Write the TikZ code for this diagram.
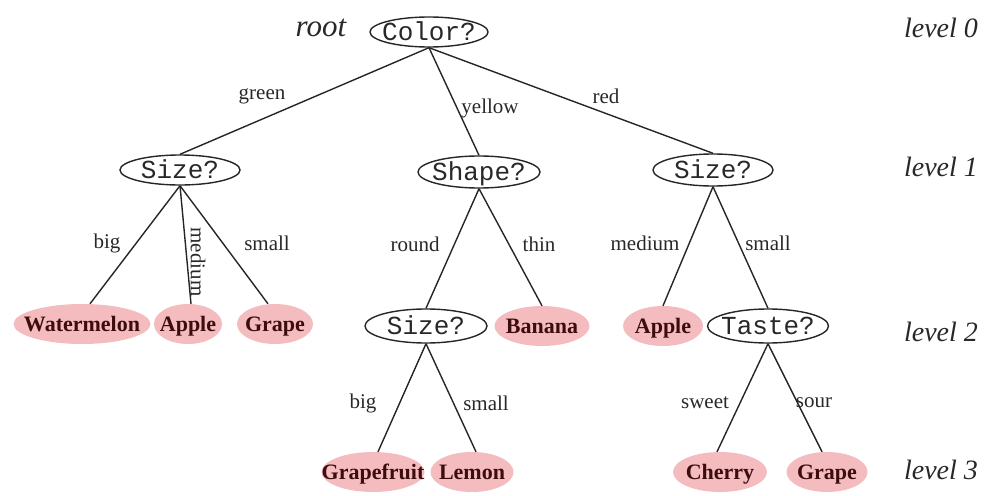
\documentclass[tikz,border=0pt]{standalone}
\usepackage{fontspec}
\setmainfont{Liberation Serif}
\setmonofont{Liberation Mono}
\usetikzlibrary{shapes.geometric}
\definecolor{leaffill}{RGB}{244,188,190}
\definecolor{leaftext}{RGB}{60,12,14}
\definecolor{inktext}{RGB}{40,40,40}
\newcommand{\qtxt}[1]{\makebox[0pt]{\raisebox{-0.32em}[0pt][0pt]{#1}}}
\newcommand{\ltxt}[1]{\makebox[0pt]{\raisebox{-0.33em}[0pt][0pt]{#1}}}
\tikzset{
  qnode/.style={ellipse, draw=black!85, line width=1.4pt, inner sep=0pt,
    font=\fontsize{26}{26}\ttfamily, text=inktext},
  leafnode/.style={ellipse, fill=leaffill, draw=none, inner sep=0pt,
    minimum height=40pt, font=\fontsize{22}{22}\bfseries, text=leaftext},
  elabel/.style={inner sep=0pt, font=\fontsize{21}{21}\selectfont, text=inktext},
  lvl/.style={inner sep=0pt, font=\fontsize{28}{28}\itshape, text=inktext},
  edge/.style={draw=black!85, line width=1.4pt}
}
\begin{document}
\begin{tikzpicture}[x=1pt,y=-1pt]
\useasboundingbox (0,0) rectangle (998,495);
% question nodes
\node[qnode, minimum width=118pt, minimum height=30pt] (color) at (429,32) {\qtxt{Color?}};
\node[qnode, minimum width=120pt, minimum height=30pt] (sizeA) at (180,170) {\qtxt{Size?}};
\node[qnode, minimum width=122pt, minimum height=32pt] (shape) at (479,172) {\qtxt{Shape?}};
\node[qnode, minimum width=120pt, minimum height=32pt] (sizeB) at (713,170) {\qtxt{Size?}};
\node[qnode, minimum width=122pt, minimum height=34pt] (sizeC) at (426,326) {\qtxt{Size?}};
\node[qnode, minimum width=121pt, minimum height=34pt] (taste) at (768,326) {\qtxt{Taste?}};
% leaves
\node[leafnode, minimum width=137pt] (watermelon) at (82,324) {\ltxt{Watermelon}};
\node[leafnode, minimum width=68pt] (appleA) at (188,324) {\ltxt{Apple}};
\node[leafnode, minimum width=76pt] (grapeA) at (275,324) {\ltxt{Grape}};
\node[leafnode, minimum width=95pt] (banana) at (542,326) {\ltxt{Banana}};
\node[leafnode, minimum width=80pt] (appleB) at (663,326) {\ltxt{Apple}};
\node[leafnode, minimum width=103pt] (grapefruit) at (373,472) {\ltxt{Grapefruit}};
\node[leafnode, minimum width=83pt] (lemon) at (472,472) {\ltxt{Lemon}};
\node[leafnode, minimum width=94pt] (cherry) at (720,472) {\ltxt{Cherry}};
\node[leafnode, minimum width=81pt] (grapeB) at (827,472) {\ltxt{Grape}};
% edges
\draw[edge] (color.south) -- (sizeA.north);
\draw[edge] (color.south) -- (shape.north);
\draw[edge] (color.south) -- (sizeB.north);
\draw[edge] (sizeA.south) -- ([xshift=8pt]watermelon.north);
\draw[edge] (sizeA.south) -- ([xshift=3pt]appleA.north);
\draw[edge] (sizeA.south) -- ([xshift=-7pt]grapeA.north);
\draw[edge] (shape.south) -- (sizeC.north);
\draw[edge] (shape.south) -- (banana.north);
\draw[edge] (sizeB.south) -- (appleB.north);
\draw[edge] (sizeB.south) -- (taste.north);
\draw[edge] (sizeC.south) -- ([xshift=5pt]grapefruit.north);
\draw[edge] (sizeC.south) -- ([xshift=4pt]lemon.north);
\draw[edge] (taste.south) -- ([xshift=-3pt]cherry.north);
\draw[edge] (taste.south) -- ([xshift=-5pt]grapeB.north);
% edge labels
\node[elabel] (lgreen) at (262,96) {green};
\node[elabel] (lyellow) at (490,108) {yellow};
\node[elabel] (lred) at (606,96) {red};
\node[elabel] (lbigA) at (107,243) {big};
\node[elabel, rotate=-90] (lmediumA) at (198,262) {medium};
\node[elabel] (lsmallA) at (267,243) {small};
\node[elabel] (lround) at (415,244) {round};
\node[elabel] (lthin) at (539,244) {thin};
\node[elabel] (lmediumB) at (645,243) {medium};
\node[elabel] (lsmallB) at (768,243) {small};
\node[elabel] (lbigC) at (363,403) {big};
\node[elabel] (lsmallC) at (486,403) {small};
\node[elabel] (lsweet) at (705,403) {sweet};
\node[elabel] (lsour) at (814,403) {sour};
% level labels
\node[lvl, font=\fontsize{31}{31}\itshape] (root) at (321,28) {root};
\node[lvl] (lv0) at (941,28) {level 0};
\node[lvl] (lv1) at (941,167) {level 1};
\node[lvl] (lv2) at (941,332) {level 2};
\node[lvl] (lv3) at (941,470) {level 3};
\end{tikzpicture}
\end{document}
